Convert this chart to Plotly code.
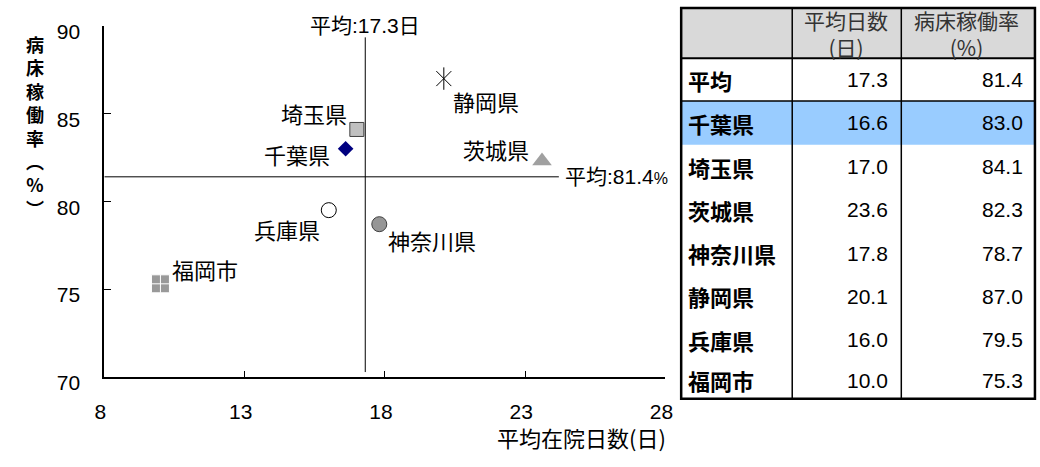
import plotly.graph_objects as go

# ---- data ----
names = ["千葉県", "埼玉県", "茨城県", "神奈川県", "静岡県", "兵庫県", "福岡市"]
avg_days = [16.6, 17.0, 23.6, 17.8, 20.1, 16.0, 10.0]
bed_rate = [83.0, 84.1, 82.3, 78.7, 87.0, 79.5, 75.3]
mean_days = 17.3
mean_rate = 81.4
x_ticks = [8, 13, 18, 23, 28]
y_ticks = [70, 75, 80, 85, 90]

W, H = 1040, 467
JP = "Noto Sans CJK JP"
NUM = "Liberation Sans, Noto Sans CJK JP"


def px(x):
    return x / W


def py(y):
    return 1 - y / H


# marker style per area
styles = {
    "千葉県": dict(symbol="diamond", size=12, color="#000080", line=dict(width=0)),
    "埼玉県": dict(symbol="square", size=14, color="#c0c0c0", line=dict(width=1, color="#404040")),
    "茨城県": dict(symbol="triangle-up", size=17, color="#a0a0a0", line=dict(width=0)),
    "神奈川県": dict(symbol="circle", size=15, color="#969696", line=dict(width=1, color="#404040")),
    "静岡県": dict(symbol="x-thin-open", size=15, color="#000000", line=dict(width=1, color="#000000")),
    "兵庫県": dict(symbol="circle", size=15, color="#ffffff", line=dict(width=1, color="#000000")),
    "福岡市": dict(symbol="square-cross", size=18, color="#999999", line=dict(width=1, color="#ffffff")),
}
# label placement (anchor side, pixel shifts)
label_pos = {
    "千葉県": ("right", -14, -5),
    "埼玉県": ("right", -8, 16),
    "茨城県": ("right", -11, 12),
    "神奈川県": ("left", 7, -16),
    "静岡県": ("left", 7, -22),
    "兵庫県": ("right", -7, -19),
    "福岡市": ("left", 10, 15),
}

fig = go.Figure()
for n, xv, yv in zip(names, avg_days, bed_rate):
    fig.add_trace(go.Scatter(x=[xv], y=[yv], mode="markers", marker=styles[n],
                             showlegend=False, hoverinfo="skip"))
    if n == "静岡県":
        fig.add_trace(go.Scatter(x=[xv], y=[yv], mode="markers",
                                 marker=dict(symbol="line-ns-open", size=16, color="#000000",
                                             line=dict(width=1, color="#000000")),
                                 showlegend=False, hoverinfo="skip"))
    side, dx, dy = label_pos[n]
    fig.add_annotation(x=xv, y=yv, xref="x", yref="y", text=n, showarrow=False,
                       xanchor=side, yanchor="middle", xshift=dx, yshift=dy,
                       font=dict(family=JP, size=22, color="#000000"))

# average lines
fig.add_shape(type="line", xref="x", yref="y", x0=mean_days, x1=mean_days, y0=70.27, y1=89.35,
              line=dict(color="#000000", width=1))
fig.add_shape(type="line", xref="x", yref="y", x0=8, x1=24.2, y0=mean_rate, y1=mean_rate,
              line=dict(color="#000000", width=1))
fig.add_annotation(x=mean_days, y=py(20), xref="x", yref="paper",
                   text=f"平均:{mean_days:.1f}日", showarrow=False, xanchor="center",
                   yanchor="middle", font=dict(family=NUM, size=21, color="#000000"))
fig.add_annotation(x=24.2, y=mean_rate, xref="x", yref="y",
                   text=f"平均:{mean_rate:.1f}<span style='font-size:16px'>%</span>",
                   showarrow=False, xanchor="left", yanchor="middle", xshift=4,
                   font=dict(family=NUM, size=21, color="#000000"))

# axis titles (vertical y title stacked one glyph per line)
y_title = "病床稼働率︵%︶"
fig.add_annotation(x=px(25), y=py(126), xref="paper", yref="paper",
                   text="<b>" + "<br>".join(y_title) + "</b>", showarrow=False,
                   xanchor="center", yanchor="middle",
                   font=dict(family=JP, size=18, color="#000000"))
fig.add_annotation(x=px(670), y=py(453), xref="paper", yref="paper",
                   text="平均在院日数(日)", showarrow=False, xanchor="right", yanchor="middle",
                   font=dict(family=JP, size=22, color="#000000"))

# ---- table ----
col_edges = [683, 796, 907, 1043]
row_edges = [2, 55, 100, 146, 192, 237, 283, 328, 374, 413]
row_labels = ["平均"] + names
col_days = [mean_days] + avg_days
col_rate = [mean_rate] + bed_rate
highlight = "千葉県"


def rect(x0, y0, x1, y1, fill):
    fig.add_shape(type="rect", xref="paper", yref="paper",
                  x0=px(x0), x1=px(x1), y0=py(y0), y1=py(y1),
                  fillcolor=fill, line=dict(width=0), layer="below")


def hline(y, x0, x1, w):
    fig.add_shape(type="line", xref="paper", yref="paper", x0=px(x0), x1=px(x1),
                  y0=py(y), y1=py(y), line=dict(color="#000000", width=w))


def vline(x, y0, y1, w):
    fig.add_shape(type="line", xref="paper", yref="paper", x0=px(x), x1=px(x),
                  y0=py(y0), y1=py(y1), line=dict(color="#000000", width=w))


rect(col_edges[0], row_edges[0], col_edges[3], row_edges[1], "#d9d9d9")
for i, lab in enumerate(row_labels):
    if lab == highlight:
        rect(col_edges[0], row_edges[i + 1], col_edges[3], row_edges[i + 2], "#99ccff")

hline(row_edges[1], col_edges[0], col_edges[3], 2)
hline(row_edges[2], col_edges[0], col_edges[3], 1.5)
vline(col_edges[1], row_edges[0], row_edges[-1], 1.5)
vline(col_edges[2], row_edges[0], row_edges[-1], 1.5)
fig.add_shape(type="rect", xref="paper", yref="paper",
              x0=px(col_edges[0]), x1=px(col_edges[3]), y0=py(row_edges[0]), y1=py(row_edges[-1]),
              line=dict(color="#000000", width=2.5), fillcolor="rgba(0,0,0,0)")

hdr_font = dict(family=JP, size=21, color="#333333")
headers = ["平均日数<br>(日)", "病床稼働率<br>(%)"]
hdr_x = [851, 973]
for h, cx in zip(headers, hdr_x):
    fig.add_annotation(x=px(cx), y=py(29), xref="paper", yref="paper", text=h,
                       showarrow=False, xanchor="center", yanchor="middle", font=hdr_font)

for i, (lab, d, r) in enumerate(zip(row_labels, col_days, col_rate)):
    cy = (row_edges[i + 1] + row_edges[i + 2]) / 2
    fig.add_annotation(x=px(688), y=py(cy), xref="paper", yref="paper", text=f"<b>{lab}</b>",
                       showarrow=False, xanchor="left", yanchor="middle",
                       font=dict(family=JP, size=22, color="#000000"))
    fig.add_annotation(x=px(896), y=py(cy), xref="paper", yref="paper", text=f"{d:.1f}",
                       showarrow=False, xanchor="right", yanchor="middle",
                       font=dict(family=NUM, size=21, color="#000000"))
    fig.add_annotation(x=px(1033), y=py(cy), xref="paper", yref="paper", text=f"{r:.1f}",
                       showarrow=False, xanchor="right", yanchor="middle",
                       font=dict(family=NUM, size=21, color="#000000"))

fig.update_layout(
    width=W, height=H,
    margin=dict(l=0, r=0, t=0, b=0),
    paper_bgcolor="#ffffff", plot_bgcolor="#ffffff",
    xaxis=dict(domain=[px(96), px(667)], range=[8, 28], tickvals=x_ticks,
               ticks="inside", ticklen=6, tickcolor="#000000", tickwidth=1,
               showline=True, linecolor="#000000", linewidth=2, showgrid=False,
               zeroline=False, ticklabelstandoff=15, ticklabelshift=-4,
               tickfont=dict(family=NUM, size=21, color="#000000")),
    yaxis=dict(domain=[py(390), py(21)], range=[70, 90], tickvals=y_ticks,
               ticks="inside", ticklen=7, tickcolor="#000000", tickwidth=1,
               showline=True, linecolor="#000000", linewidth=2, showgrid=False,
               zeroline=False, ticklabelstandoff=18, ticklabelshift=6,
               tickfont=dict(family=NUM, size=21, color="#000000")),
)

fig.write_html("out.html")
